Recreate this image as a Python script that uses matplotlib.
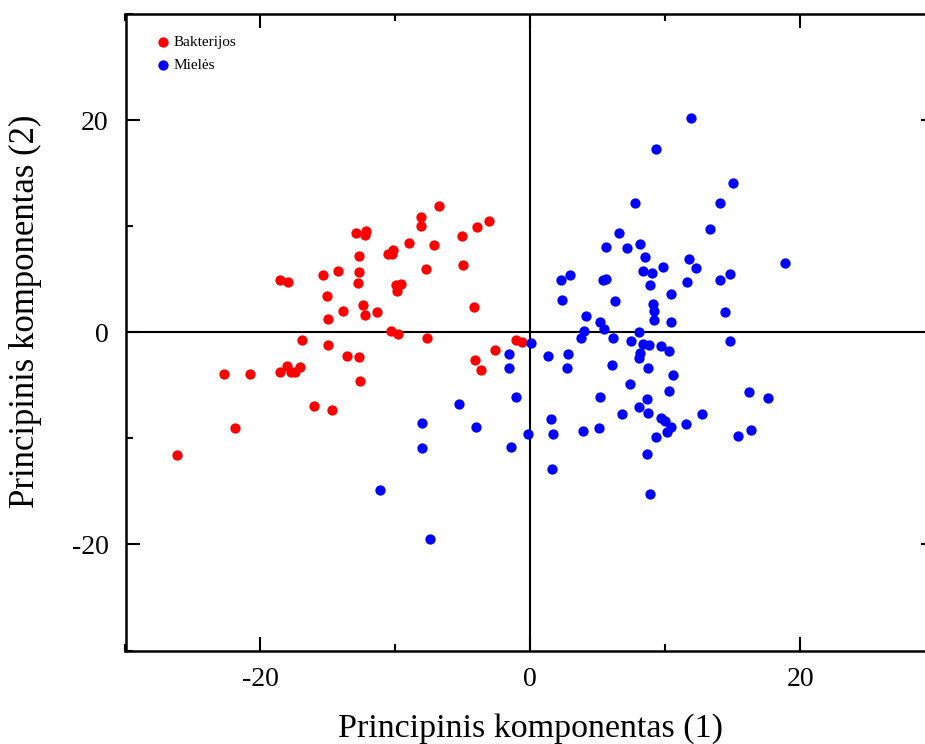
import numpy as np
from matplotlib import pyplot as plt
from matplotlib.ticker import MultipleLocator

plt.rcParams['font.family'] = ['Liberation Serif', 'DejaVu Serif']
plt.rcParams['axes.unicode_minus'] = False

# Principal component scores
bakterijos_x = [-6.77, -8.10, -8.10, -3.03, -3.92, -5.03, -12.94, -12.17, -12.22, -9.02,
                -7.14, -10.16, -10.51, -10.26, -12.71, -7.73, -4.96, -18.54, -17.94, -15.37,
                -14.22, -12.71, -12.79, -9.96, -9.59, -9.86, -15.09, -4.14, -12.39, -13.90,
                -12.24, -11.35, -14.97, -10.33, -9.81, -7.63, -16.93, -14.97, -1.07, -0.64,
                -2.63, -4.06, -3.64, -13.58, -12.66, -22.68, -20.79, -18.54, -18.02, -17.72,
                -17.40, -17.08, -12.62, -16.01, -14.72, -21.88, -26.15]
bakterijos_y = [11.9, 10.9, 9.97, 10.5, 9.94, 9.03, 9.37, 9.59, 9.15, 8.46,
                8.27, 7.80, 7.39, 7.42, 7.17, 5.97, 6.32, 4.91, 4.69, 5.41,
                5.82, 5.69, 4.62, 4.43, 4.53, 3.90, 3.37, 2.36, 2.61, 2.01,
                1.67, 1.89, 1.23, 0.13, -0.16, -0.5, -0.75, -1.16, -0.69, -0.88,
                -1.67, -2.61, -3.55, -2.26, -2.36, -3.93, -3.93, -3.74, -3.18, -3.71,
                -3.71, -3.27, -4.59, -6.98, -7.29, -8.99, -11.57]

mieles_x = [0.02, -1.59, -1.56, -1.07, -5.30, -8.00, -4.04, -0.20, -8.03, -1.44,
            -11.15, -7.43, 11.92, 9.34, 15.02, 7.78, 14.05, 13.36, 6.57, 5.65,
            7.19, 8.10, 8.50, 11.80, 12.27, 9.81, 8.38, 9.05, 18.86, 2.26,
            2.97, 5.40, 5.63, 8.85, 11.62, 14.05, 14.77, 2.38, 6.27, 10.41,
            9.12, 9.19, 9.14, 10.46, 14.45, 4.14, 5.20, 5.45, 3.96, 3.79,
            6.10, 8.03, 7.48, 8.33, 8.82, 9.69, 14.82, 10.26, 1.31, 2.83,
            2.75, 6.07, 8.15, 8.05, 8.75, 10.61, 7.43, 10.26, 16.21, 17.64,
            5.18, 8.65, 8.08, 8.70, 6.77, 12.71, 9.72, 10.01, 10.46, 10.16,
            11.52, 9.32, 1.54, 1.66, 3.92, 5.06, 15.39, 16.33, 8.62, 1.61,
            8.85]
mieles_y = [-1.04, -2.08, -3.40, -6.13, -6.76, -8.58, -8.93, -9.59, -10.94, -10.78,
            -14.9, -19.53, 20.2, 17.3, 14.06, 12.14, 12.14, 9.69, 9.40, 7.99,
            7.90, 8.33, 7.14, 6.86, 6.07, 6.16, 5.82, 5.57, 6.54, 4.91,
            5.44, 4.97, 5.0, 4.46, 4.75, 4.91, 5.47, 3.02, 2.95, 3.61,
            2.64, 2.01, 1.16, 1.01, 1.92, 1.51, 0.97, 0.35, 0.09, -0.57,
            -0.5, 0.06, -0.79, -1.1, -1.17, -1.29, -0.85, -1.79, -2.23, -2.08,
            -3.33, -3.05, -1.92, -2.42, -3.33, -4.03, -4.91, -5.50, -5.63, -6.23,
            -6.10, -6.32, -7.08, -7.58, -7.67, -7.71, -8.05, -8.40, -8.96, -9.43,
            -8.62, -9.87, -8.21, -9.59, -9.28, -9.02, -9.78, -9.21, -11.45, -12.86,
            -15.22]

fig = plt.figure(figsize=(9.25, 7.44), dpi=100)
ax = fig.add_axes([125.5 / 925, 93.5 / 744, 809.5 / 925, 636.5 / 744])

# Axis cross through the origin
ax.axhline(0, color='black', linewidth=1.5, zorder=1)
ax.axvline(0, color='black', linewidth=1.5, zorder=1)

ax.scatter(bakterijos_x, bakterijos_y, s=55, color='#ff0000', linewidths=0,
           label='Bakterijos', zorder=3)
ax.scatter(mieles_x, mieles_y, s=55, color='#0000ff', linewidths=0,
           label='Mielės', zorder=3)

ax.set_xlim(-30, 30)
ax.set_ylim(-30, 30)
ax.xaxis.set_major_locator(MultipleLocator(20))
ax.xaxis.set_minor_locator(MultipleLocator(10))
ax.yaxis.set_major_locator(MultipleLocator(20))
ax.yaxis.set_minor_locator(MultipleLocator(10))

ax.tick_params(which='both', direction='in', top=True, right=True,
               width=1.5, labelsize=20, pad=12)
ax.tick_params(which='major', length=10)
ax.tick_params(which='minor', length=5)
for spine in ax.spines.values():
    spine.set_linewidth(1.8)

ax.set_xlabel('Principinis komponentas (1)', fontsize=24.5)
ax.set_ylabel('Principinis komponentas (2)', fontsize=25)
ax.xaxis.set_label_coords(0.5, -0.098)
ax.yaxis.set_label_coords(-0.103, 0.533)

ax.legend(loc='upper left', bbox_to_anchor=(0.0364, 0.966), frameon=False,
          fontsize=11, handlelength=1.0, handletextpad=0.2, borderaxespad=0,
          borderpad=0, labelspacing=0.6, scatterpoints=1)

fig.savefig('out.png', dpi=100)
